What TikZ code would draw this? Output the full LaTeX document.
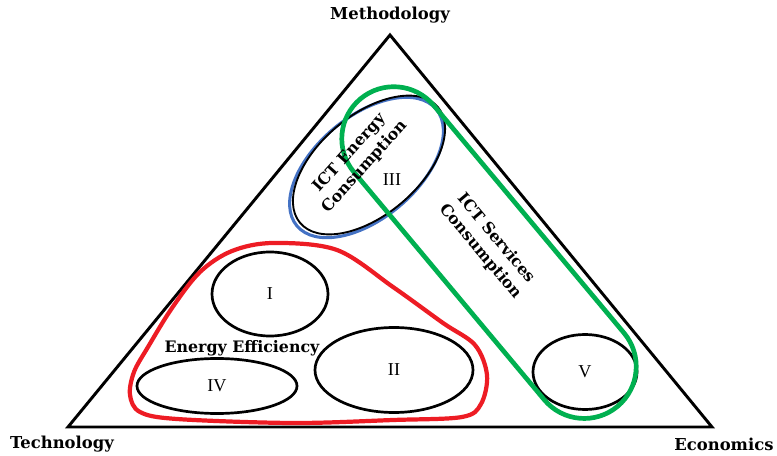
\documentclass[tikz,border=0pt]{standalone}
\usepackage{fontspec}
\setmainfont{Liberation Serif}
\newfontfamily\labelfont{DejaVu Serif}
\usepackage{tikz}
\usetikzlibrary{shapes, positioning}
\definecolor{loopred}{RGB}{237, 28, 36}
\definecolor{loopgreen}{RGB}{0, 176, 80}
\definecolor{loopblue}{RGB}{68, 114, 196}

\begin{document}
\begin{tikzpicture}[
    x=0.03cm, y=-0.03cm,
    area/.style={draw, ellipse, line width=2.3pt, inner sep=0pt,
        font=\fontsize{15.5}{18}\selectfont},
    field/.style={font=\labelfont\bfseries\fontsize{13.5}{17.5}\selectfont,
        align=center, inner sep=0pt},
    corner/.style={font=\labelfont\bfseries\fontsize{14}{16}\selectfont,
        inner sep=0pt}
]
    \useasboundingbox (0,0) rectangle (777,456);

    \coordinate (top) at (390,35);
    \coordinate (left) at (68,427);
    \coordinate (right) at (712,427);
    \draw[line width=2.5pt, line join=miter] (left) -- (top) -- (right) -- cycle;

    \node[corner] (meth) at (390,15) {Methodology};
    \node[corner] (tech) at (62,444) {Technology};
    \node[corner] (econ) at (724,444) {Economics};

    \draw[loopred, line width=3.6pt]
        plot[smooth cycle, tension=0.55] coordinates {
            (273,243) (337,250) (393,287) (443,323) (475,345) (487,375)
            (481,404) (462,417) (393,420) (293,423) (177,419) (140,412)
            (130,395) (134,372) (148,347) (172,308) (200,272) (232,251)};

    \node[area] (e1) at (270,294) [minimum width=3.48cm, minimum height=2.52cm] {I};
    \node[area] (e2) at (394,370) [minimum width=4.74cm, minimum height=2.55cm] {II};
    \node[area] (e4) at (217,386) [minimum width=4.8cm, minimum height=1.65cm] {IV};
    \node[area] (e5) at (585,372) [minimum width=3.12cm, minimum height=2.25cm] {V};

    \node[area, draw=loopblue, rotate=40, line width=2.6pt] (e3b) at (366.5,167.5)
        [minimum width=5.45cm, minimum height=3.05cm] {};
    \node[area, rotate=40, line width=1.6pt] (e3) at (369,165)
        [minimum width=5.4cm, minimum height=3.0cm] {};
    \node[font=\fontsize{15.5}{18}\selectfont] (n3) at (392,180) {III};

    \node[draw=loopgreen, line width=4pt, rounded rectangle, rotate=-50.1,
        minimum width=12.26cm, minimum height=3.12cm] (serv) at (489,252.6) {};

    \node[field, rotate=48] (ictE) at (357,160) {ICT Energy\\Consumption};
    \node[field, rotate=-50] (ictS) at (488,245) {ICT Services\\Consumption};
    \node[field] (eff) at (242,348) {Energy Efficiency};
\end{tikzpicture}
\end{document}
